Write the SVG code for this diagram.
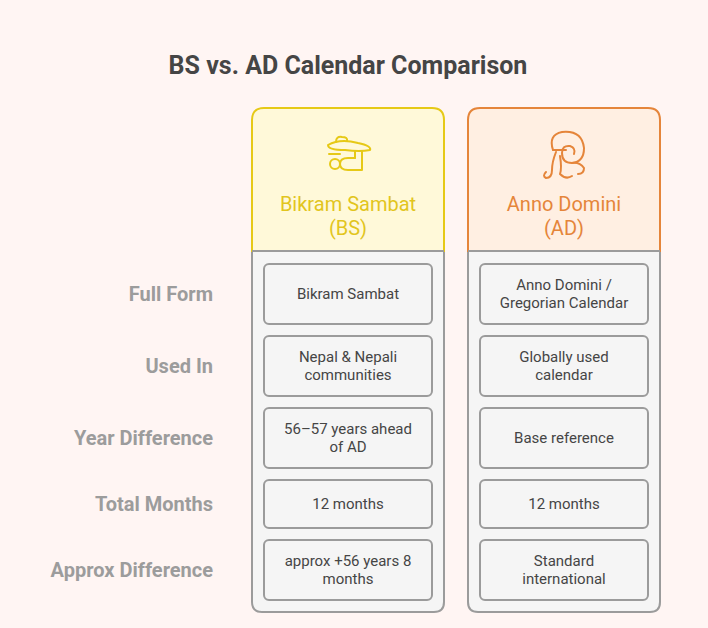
<svg xmlns="http://www.w3.org/2000/svg" width="708" height="628" viewBox="0 0 708 628">
<style>
.t{font-family:Roboto,"Liberation Sans",sans-serif}
.lab{font-family:Roboto,"Liberation Sans",sans-serif;font-size:20px;font-weight:bold;fill:#9c9c9c;text-anchor:end}
.cell{fill:#f5f5f5;stroke:#9b9b9b;stroke-width:2}
.ct{font-family:Roboto,"Liberation Sans",sans-serif;font-size:15px;fill:#454545;text-anchor:middle}
.col{fill:#f5f5f5;stroke:#9b9b9b;stroke-width:2}
</style>
<rect width="708" height="628" fill="#fff5f3"/>
<text x="348" y="74" class="t" font-size="25" font-weight="bold" fill="#454545" text-anchor="middle">BS vs. AD Calendar Comparison</text>
<g id="labels">
<text x="213" y="301" class="lab">Full Form</text>
<text x="213" y="373" class="lab">Used In</text>
<text x="213" y="445" class="lab">Year Difference</text>
<text x="213" y="511" class="lab">Total Months</text>
<text x="213" y="577" class="lab">Approx Difference</text>
</g>
<g id="bs">
<path d="M252,251 V602 Q252,612 262,612 H434 Q444,612 444,602 V251 Z" class="col"/>
<path d="M252,251 V120 Q252,108 264,108 H432 Q444,108 444,120 V251 Z" fill="#fff9d9" stroke="#e6c916" stroke-width="2"/>
<line x1="252" y1="251" x2="444" y2="251" stroke="#9b9b9b" stroke-width="2"/>
<g fill="none" stroke="#e6c916" stroke-width="2" stroke-linecap="round" stroke-linejoin="round">
<path d="M328,145 Q340,138 358,143 Q372,146 370,150 Q360,152 345,150 Q328,150 328,145 Z"/>
<path d="M336,142 Q336,136 342,137 Q348,137 347,141"/>
<path d="M362,151 V170 H348 Q340,170 340,164 Q340,158 348,158 H355"/>
<circle cx="335" cy="164" r="5"/>
<path d="M355,158 V151"/>
<path d="M329,154 H340"/>
</g>
<text x="348" y="211" class="t" font-size="20" fill="#e2c51d" text-anchor="middle">Bikram Sambat</text>
<text x="348" y="235" class="t" font-size="20" fill="#e2c51d" text-anchor="middle">(BS)</text>
</g>
<g id="ad">
<path d="M468,251 V602 Q468,612 478,612 H650 Q660,612 660,602 V251 Z" class="col"/>
<path d="M468,251 V120 Q468,108 480,108 H648 Q660,108 660,120 V251 Z" fill="#ffefe2" stroke="#e5853a" stroke-width="2"/>
<line x1="468" y1="251" x2="660" y2="251" stroke="#9b9b9b" stroke-width="2"/>
<g fill="none" stroke="#e5853a" stroke-width="2" stroke-linecap="round" stroke-linejoin="round">
<path d="M553,150 Q548,135 562,132 Q582,130 584,148 Q584,162 572,163 Q562,163 562,153 Q562,145 570,146 Q576,148 574,154"/>
<path d="M553,150 H566"/>
<path d="M556,152 Q552,162 552,170 Q552,178 546,178 Q542,176 546,172"/>
<path d="M560,156 Q562,168 560,174 Q566,180 572,176"/>
<path d="M572,163 Q580,162 584,168 Q584,174 578,174"/>
</g>
<text x="564" y="211" class="t" font-size="20" fill="#e5853a" text-anchor="middle">Anno Domini</text>
<text x="564" y="235" class="t" font-size="20" fill="#e5853a" text-anchor="middle">(AD)</text>
</g>
<g id="cells">
<rect x="264" y="264" width="168" height="60" rx="5" class="cell"/>
<text x="348" y="299" class="ct">Bikram Sambat</text>
<rect x="264" y="336" width="168" height="60" rx="5" class="cell"/>
<text x="348" y="362" class="ct">Nepal &amp; Nepali</text><text x="348" y="380" class="ct">communities</text>
<rect x="264" y="408" width="168" height="60" rx="5" class="cell"/>
<text x="348" y="434" class="ct">56–57 years ahead</text><text x="348" y="452" class="ct">of AD</text>
<rect x="264" y="480" width="168" height="48" rx="5" class="cell"/>
<text x="348" y="509" class="ct">12 months</text>
<rect x="264" y="540" width="168" height="60" rx="5" class="cell"/>
<text x="348" y="566" class="ct">approx +56 years 8</text><text x="348" y="584" class="ct">months</text>
<rect x="480" y="264" width="168" height="60" rx="5" class="cell"/>
<text x="564" y="290" class="ct">Anno Domini /</text><text x="564" y="308" class="ct">Gregorian Calendar</text>
<rect x="480" y="336" width="168" height="60" rx="5" class="cell"/>
<text x="564" y="362" class="ct">Globally used</text><text x="564" y="380" class="ct">calendar</text>
<rect x="480" y="408" width="168" height="60" rx="5" class="cell"/>
<text x="564" y="443" class="ct">Base reference</text>
<rect x="480" y="480" width="168" height="48" rx="5" class="cell"/>
<text x="564" y="509" class="ct">12 months</text>
<rect x="480" y="540" width="168" height="60" rx="5" class="cell"/>
<text x="564" y="566" class="ct">Standard</text><text x="564" y="584" class="ct">international</text>
</g>
</svg>
